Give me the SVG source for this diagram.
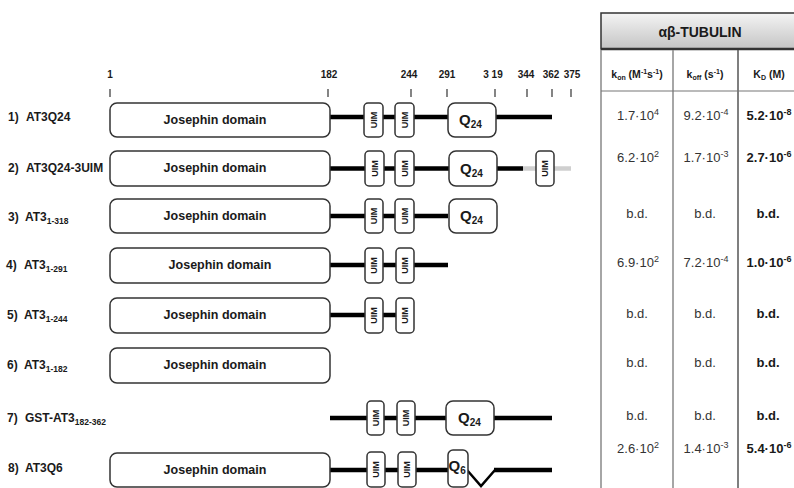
<svg xmlns="http://www.w3.org/2000/svg" width="794" height="488" viewBox="0 0 794 488">
<defs>
<linearGradient id="hdr" x1="0" y1="0" x2="0" y2="1">
<stop offset="0" stop-color="#f4f4f4"/>
<stop offset="1" stop-color="#c4c4c4"/>
</linearGradient>
</defs>
<style>
text{font-family:"Liberation Sans",Arial,sans-serif;fill:#1a1a1a}
.lbl{font-size:12px;font-weight:bold}
.sub{font-size:8.5px}
.jos{font-size:12.5px;font-weight:bold;text-anchor:middle}
.box{fill:#fff;stroke:#333;stroke-width:1.5}
.uim{fill:#fff;stroke:#333;stroke-width:1.5}
.uimt{font-size:9px;font-weight:bold;text-anchor:middle}
.q{font-size:15px;font-weight:bold}
.qs{font-size:10px}
.ln{stroke:#000;stroke-width:4.5;fill:none}
.lng{stroke:#cfcfcf;stroke-width:4.5;fill:none}
.tick{stroke:#333;stroke-width:1.2}
.scl{font-size:10px;font-weight:bold;text-anchor:middle}
.val{font-size:13px;text-anchor:middle;fill:#333}
.valb{font-size:13px;font-weight:bold;text-anchor:middle}
.sup{font-size:9px}
.hd{font-size:10.5px;font-weight:bold;text-anchor:middle}
.vl{stroke:#888;stroke-width:1.5}
</style>

<g id="scale">
<text class="scl" x="110" y="78">1</text>
<text class="scl" x="329" y="78">182</text>
<text class="scl" x="409" y="78">244</text>
<text class="scl" x="447" y="78">291</text>
<text class="scl" x="493" y="78">3 19</text>
<text class="scl" x="526" y="78">344</text>
<text class="scl" x="551" y="78">362</text>
<text class="scl" x="572" y="78">375</text>
<line class="tick" x1="110" y1="89" x2="110" y2="97"/>
<line class="tick" x1="328" y1="89" x2="328" y2="97"/>
<line class="tick" x1="411" y1="89" x2="411" y2="97"/>
<line class="tick" x1="447" y1="89" x2="447" y2="97"/>
<line class="tick" x1="495" y1="89" x2="495" y2="97"/>
<line class="tick" x1="527" y1="89" x2="527" y2="97"/>
<line class="tick" x1="552" y1="89" x2="552" y2="97"/>
<line class="tick" x1="571" y1="89" x2="571" y2="97"/>
</g>

<g id="connectors">
<line class="ln" x1="330" y1="117" x2="552" y2="117"/>
<line class="ln" x1="330" y1="168.5" x2="523" y2="168.5"/>
<line class="lng" x1="523" y1="168.5" x2="571" y2="168.5"/>
<line class="ln" x1="330" y1="216" x2="448" y2="216"/>
<line class="ln" x1="330" y1="265" x2="448" y2="265"/>
<line class="ln" x1="330" y1="315" x2="396" y2="315"/>
<line class="ln" x1="330" y1="418" x2="552" y2="418"/>
<line class="ln" x1="330" y1="470" x2="448" y2="470"/>
<polyline points="467,470 481,486 495,470" fill="none" stroke="#000" stroke-width="2.5"/>
<line class="ln" x1="494" y1="470" x2="552" y2="470"/>
</g>

<g id="row1">
<text class="lbl" x="8" y="121">1)<tspan x="26">AT3Q24</tspan></text>
<rect class="box" x="110" y="103" width="220" height="34" rx="7"/>
<text class="jos" x="215" y="124">Josephin domain</text>
<rect class="uim" x="364" y="103" width="19" height="34" rx="4"/>
<text class="uimt" transform="translate(376.7,120) rotate(-90)">UIM</text>
<rect class="uim" x="395" y="103" width="19" height="34" rx="4"/>
<text class="uimt" transform="translate(407.7,120) rotate(-90)">UIM</text>
<rect class="box" x="448" y="103" width="48" height="34" rx="7"/>
<text class="q" x="459" y="125">Q<tspan class="qs" dy="3">24</tspan></text>
</g>

<g id="row2">
<text class="lbl" x="8" y="172">2)<tspan x="26">AT3Q24-3UIM</tspan></text>
<rect class="box" x="110" y="151" width="220" height="35" rx="7"/>
<text class="jos" x="215" y="172">Josephin domain</text>
<rect class="uim" x="365" y="151" width="19" height="35" rx="4"/>
<text class="uimt" transform="translate(377.7,168.5) rotate(-90)">UIM</text>
<rect class="uim" x="395" y="151" width="19" height="35" rx="4"/>
<text class="uimt" transform="translate(407.7,168.5) rotate(-90)">UIM</text>
<rect class="box" x="449" y="151" width="48" height="35" rx="7"/>
<text class="q" x="460" y="174">Q<tspan class="qs" dy="3">24</tspan></text>
<rect class="uim" x="536" y="151" width="18" height="35" rx="4"/>
<text class="uimt" transform="translate(548.2,168.5) rotate(-90)">UIM</text>
</g>

<g id="row3">
<text class="lbl" x="8" y="221">3)<tspan x="25">AT3</tspan><tspan class="sub" dy="3">1-318</tspan></text>
<rect class="box" x="110" y="199" width="220" height="34" rx="7"/>
<text class="jos" x="215" y="220">Josephin domain</text>
<rect class="uim" x="365" y="199" width="18" height="34" rx="4"/>
<text class="uimt" transform="translate(377.2,216) rotate(-90)">UIM</text>
<rect class="uim" x="395" y="199" width="19" height="34" rx="4"/>
<text class="uimt" transform="translate(407.7,216) rotate(-90)">UIM</text>
<rect class="box" x="449" y="199" width="48" height="34" rx="7"/>
<text class="q" x="460" y="221">Q<tspan class="qs" dy="3">24</tspan></text>
</g>

<g id="row4">
<text class="lbl" x="6" y="269">4)<tspan x="24">AT3</tspan><tspan class="sub" dy="3">1-291</tspan></text>
<rect class="box" x="110" y="248" width="220" height="35" rx="7"/>
<text class="jos" x="220" y="269">Josephin domain</text>
<rect class="uim" x="365" y="248" width="18" height="35" rx="4"/>
<text class="uimt" transform="translate(377.2,265.5) rotate(-90)">UIM</text>
<rect class="uim" x="396" y="248" width="18" height="35" rx="4"/>
<text class="uimt" transform="translate(408.2,265.5) rotate(-90)">UIM</text>
</g>

<g id="row5">
<text class="lbl" x="7" y="319">5)<tspan x="24">AT3</tspan><tspan class="sub" dy="3">1-244</tspan></text>
<rect class="box" x="110" y="298" width="220" height="35" rx="7"/>
<text class="jos" x="215" y="319">Josephin domain</text>
<rect class="uim" x="365" y="298" width="18" height="35" rx="4"/>
<text class="uimt" transform="translate(377.2,315.5) rotate(-90)">UIM</text>
<rect class="uim" x="396" y="298" width="18" height="35" rx="4"/>
<text class="uimt" transform="translate(408.2,315.5) rotate(-90)">UIM</text>
</g>

<g id="row6">
<text class="lbl" x="7" y="369">6)<tspan x="24">AT3</tspan><tspan class="sub" dy="3">1-182</tspan></text>
<rect class="box" x="110" y="348" width="220" height="35" rx="7"/>
<text class="jos" x="215" y="369">Josephin domain</text>
</g>

<g id="row7">
<text class="lbl" x="7" y="422">7)<tspan x="25">GST-AT3</tspan><tspan class="sub" dy="3">182-362</tspan></text>
<rect class="uim" x="367" y="401" width="17" height="34" rx="4"/>
<text class="uimt" transform="translate(378.7,418) rotate(-90)">UIM</text>
<rect class="uim" x="397" y="401" width="18" height="34" rx="4"/>
<text class="uimt" transform="translate(409.2,418) rotate(-90)">UIM</text>
<rect class="box" x="446" y="401" width="48" height="34" rx="7"/>
<text class="q" x="458" y="423">Q<tspan class="qs" dy="3">24</tspan></text>
</g>

<g id="row8">
<text class="lbl" x="8" y="472">8)<tspan x="25">AT3Q6</tspan></text>
<rect class="box" x="110" y="453" width="220" height="34" rx="7"/>
<text class="jos" x="215" y="474">Josephin domain</text>
<rect class="uim" x="367" y="452" width="18" height="35" rx="4"/>
<text class="uimt" transform="translate(379.2,469.5) rotate(-90)">UIM</text>
<rect class="uim" x="398" y="452" width="18" height="35" rx="4"/>
<text class="uimt" transform="translate(410.2,469.5) rotate(-90)">UIM</text>
<rect class="box" x="448" y="450" width="20" height="37" rx="5"/>
<text class="q" x="448.5" y="471">Q<tspan class="qs" dy="3">6</tspan></text>
</g>

<g id="table">
<rect x="601" y="13" width="200" height="36" fill="url(#hdr)" stroke="#333" stroke-width="1.5"/>
<line x1="601" y1="49" x2="801" y2="49" stroke="#333" stroke-width="2.5"/>
<text x="700" y="37" style="font-size:14px;font-weight:bold;text-anchor:middle">αβ-TUBULIN</text>
<line class="vl" x1="601" y1="50" x2="601" y2="488"/>
<line class="vl" x1="673" y1="50" x2="673" y2="488"/>
<line x1="738" y1="50" x2="738" y2="488" stroke="#555" stroke-width="1.5"/>
<line x1="601" y1="91" x2="801" y2="91" stroke="#777" stroke-width="1.2"/>
<text class="hd" x="637" y="78">k<tspan style="font-size:7px" dy="2">on</tspan><tspan dy="-2"> (M</tspan><tspan style="font-size:7px" dy="-4">-1</tspan><tspan dy="4">s</tspan><tspan style="font-size:7px" dy="-4">-1</tspan><tspan dy="4">)</tspan></text>
<text class="hd" x="705" y="78">k<tspan style="font-size:7px" dy="2">off</tspan><tspan dy="-2"> (s</tspan><tspan style="font-size:7px" dy="-4">-1</tspan><tspan dy="4">)</tspan></text>
<text class="hd" x="769" y="78">K<tspan style="font-size:7px" dy="2">D</tspan><tspan dy="-2"> (M)</tspan></text>

<text class="val" x="638" y="120">1.7·10<tspan class="sup" dy="-5">4</tspan></text>
<text class="val" x="706" y="120">9.2·10<tspan class="sup" dy="-5">-4</tspan></text>
<text class="valb" x="769" y="120">5.2·10<tspan class="sup" dy="-5">-8</tspan></text>

<text class="val" x="638" y="162">6.2·10<tspan class="sup" dy="-5">2</tspan></text>
<text class="val" x="706" y="162">1.7·10<tspan class="sup" dy="-5">-3</tspan></text>
<text class="valb" x="769" y="162">2.7·10<tspan class="sup" dy="-5">-6</tspan></text>

<text class="val" x="637" y="218">b.d.</text>
<text class="val" x="705" y="218">b.d.</text>
<text class="valb" x="768" y="218">b.d.</text>

<text class="val" x="638" y="267">6.9·10<tspan class="sup" dy="-5">2</tspan></text>
<text class="val" x="706" y="267">7.2·10<tspan class="sup" dy="-5">-4</tspan></text>
<text class="valb" x="769" y="267">1.0·10<tspan class="sup" dy="-5">-6</tspan></text>

<text class="val" x="637" y="318">b.d.</text>
<text class="val" x="705" y="318">b.d.</text>
<text class="valb" x="768" y="318">b.d.</text>

<text class="val" x="637" y="367">b.d.</text>
<text class="val" x="705" y="367">b.d.</text>
<text class="valb" x="768" y="367">b.d.</text>

<text class="val" x="637" y="420">b.d.</text>
<text class="val" x="705" y="420">b.d.</text>
<text class="valb" x="768" y="420">b.d.</text>

<text class="val" x="638" y="453">2.6·10<tspan class="sup" dy="-5">2</tspan></text>
<text class="val" x="706" y="453">1.4·10<tspan class="sup" dy="-5">-3</tspan></text>
<text class="valb" x="769" y="453">5.4·10<tspan class="sup" dy="-5">-6</tspan></text>
</g>
</svg>
